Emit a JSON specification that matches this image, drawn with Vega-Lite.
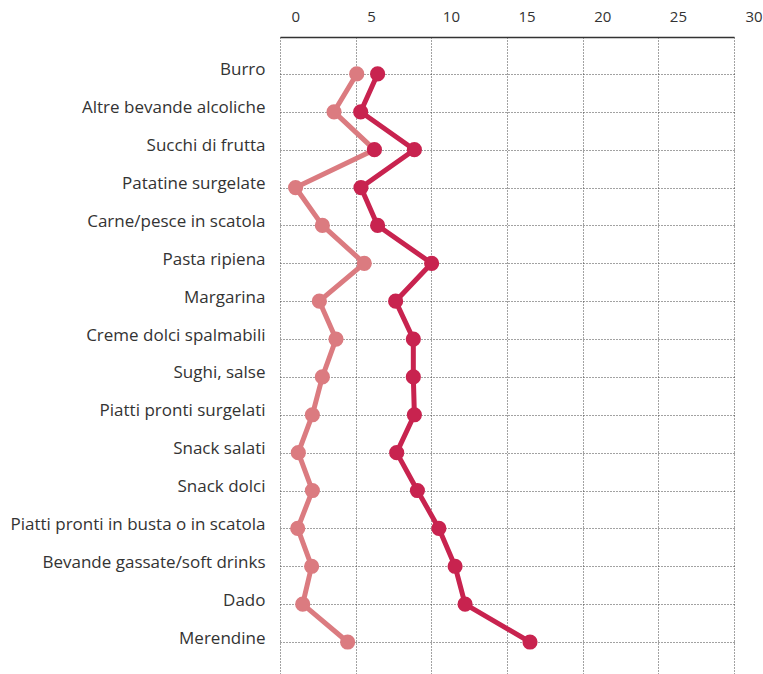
{
  "$schema": "https://vega.github.io/schema/vega-lite/v6.json",
  "autosize": {"type": "none"},
  "padding": {"left": 280, "top": 37, "right": 29, "bottom": 0},
  "width": 454,
  "height": 637,
  "background": "white",
  "data": {"values": [
    {"i": 1, "cat": "Burro", "series": "serie1", "value": 5.07},
    {"i": 2, "cat": "Altre bevande alcoliche", "series": "serie1", "value": 3.57},
    {"i": 3, "cat": "Succhi di frutta", "series": "serie1", "value": 6.24},
    {"i": 4, "cat": "Patatine surgelate", "series": "serie1", "value": 1.03},
    {"i": 5, "cat": "Carne/pesce in scatola", "series": "serie1", "value": 2.8},
    {"i": 6, "cat": "Pasta ripiena", "series": "serie1", "value": 5.57},
    {"i": 7, "cat": "Margarina", "series": "serie1", "value": 2.6},
    {"i": 8, "cat": "Creme dolci spalmabili", "series": "serie1", "value": 3.7},
    {"i": 9, "cat": "Sughi, salse", "series": "serie1", "value": 2.8},
    {"i": 10, "cat": "Piatti pronti surgelati", "series": "serie1", "value": 2.14},
    {"i": 11, "cat": "Snack salati", "series": "serie1", "value": 1.21},
    {"i": 12, "cat": "Snack dolci", "series": "serie1", "value": 2.14},
    {"i": 13, "cat": "Piatti pronti in busta o in scatola", "series": "serie1", "value": 1.17},
    {"i": 14, "cat": "Bevande gassate/soft drinks", "series": "serie1", "value": 2.09},
    {"i": 15, "cat": "Dado", "series": "serie1", "value": 1.5},
    {"i": 16, "cat": "Merendine", "series": "serie1", "value": 4.47},
    {"i": 1, "cat": "Burro", "series": "serie2", "value": 6.45},
    {"i": 2, "cat": "Altre bevande alcoliche", "series": "serie2", "value": 5.33},
    {"i": 3, "cat": "Succhi di frutta", "series": "serie2", "value": 8.88},
    {"i": 4, "cat": "Patatine surgelate", "series": "serie2", "value": 5.35},
    {"i": 5, "cat": "Carne/pesce in scatola", "series": "serie2", "value": 6.45},
    {"i": 6, "cat": "Pasta ripiena", "series": "serie2", "value": 10.02},
    {"i": 7, "cat": "Margarina", "series": "serie2", "value": 7.64},
    {"i": 8, "cat": "Creme dolci spalmabili", "series": "serie2", "value": 8.81},
    {"i": 9, "cat": "Sughi, salse", "series": "serie2", "value": 8.81},
    {"i": 10, "cat": "Piatti pronti surgelati", "series": "serie2", "value": 8.88},
    {"i": 11, "cat": "Snack salati", "series": "serie2", "value": 7.71},
    {"i": 12, "cat": "Snack dolci", "series": "serie2", "value": 9.08},
    {"i": 13, "cat": "Piatti pronti in busta o in scatola", "series": "serie2", "value": 10.5},
    {"i": 14, "cat": "Bevande gassate/soft drinks", "series": "serie2", "value": 11.57},
    {"i": 15, "cat": "Dado", "series": "serie2", "value": 12.23},
    {"i": 16, "cat": "Merendine", "series": "serie2", "value": 16.52}
  ]},
  "config": {
    "view": {"stroke": null},
    "font": "Open Sans"
  },
  "encoding": {
    "x": {
      "field": "value", "type": "quantitative",
      "scale": {"domain": [0, 30], "nice": false, "zero": true},
      "axis": {
        "orient": "top", "title": null, "values": [0, 5, 10, 15, 20, 25, 30],
        "ticks": false, "domain": true, "domainColor": "#333333", "domainWidth": 1.5,
        "grid": true, "gridColor": "#444444", "gridDash": [1, 2], "gridWidth": 1,
        "labelAlign": "left", "labelOffset": 11, "labelBaseline": "alphabetic",
        "labelPadding": 16, "labelFontSize": 15, "labelColor": "#333333",
        "labelFont": "Open Sans", "labelOverlap": false, "labelFlush": false, "labelBound": false
      }
    },
    "y": {
      "field": "cat", "type": "nominal", "sort": {"field": "i", "op": "min"},
      "scale": {"type": "point", "padding": 0.91, "align": 0.536},
      "axis": {
        "title": null, "ticks": false, "domain": false,
        "grid": true, "gridColor": "#444444", "gridDash": [1, 2], "gridWidth": 1,
        "labelPadding": 15, "labelOffset": -4, "labelFontSize": 17, "labelColor": "#333333",
        "labelFont": "Open Sans", "labelLimit": 300
      }
    }
  },
  "layer": [
    {
      "mark": {"type": "line", "strokeWidth": 5, "strokeJoin": "round", "strokeCap": "round"},
      "encoding": {
        "color": {"field": "series", "type": "nominal", "scale": {"domain": ["serie1", "serie2"], "range": ["#db7b80", "#c8234f"]}, "legend": null},
        "order": {"field": "i", "type": "quantitative"}
      }
    },
    {
      "mark": {"type": "circle", "size": 230, "opacity": 1},
      "encoding": {
        "color": {
          "condition": {"test": "datum.cat === 'Succhi di frutta' && datum.series === 'serie1'", "value": "#c8234f"},
          "field": "series", "type": "nominal", "scale": {"domain": ["serie1", "serie2"], "range": ["#db7b80", "#c8234f"]}, "legend": null
        }
      }
    }
  ]
}
